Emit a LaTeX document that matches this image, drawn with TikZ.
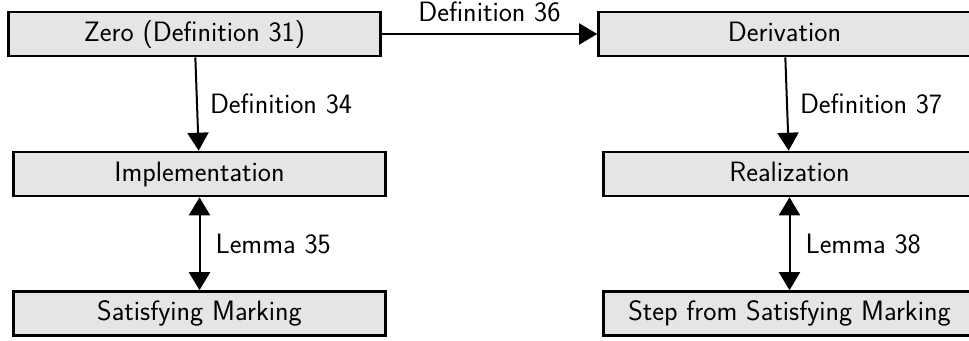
\documentclass[tikz,border=0pt]{standalone}
\usetikzlibrary{arrows.meta}
\begin{document}
\begin{tikzpicture}[x=1pt,y=-1pt,
  box/.style={draw=black, line width=2.6pt, fill=black!10, rectangle,
    minimum width=372pt, minimum height=44pt, inner sep=0pt,
    font=\sffamily\fontsize{28}{33}\selectfont,
    text height=20pt, text depth=6pt},
  link/.style={line width=2pt, -{Triangle[length=18pt,width=21pt]}},
  twoway/.style={line width=2pt, {Triangle[length=18pt,width=21pt]}-{Triangle[length=18pt,width=21pt]}},
  lbl/.style={font=\sffamily\fontsize{28}{33}\selectfont, inner sep=0pt}]
  \useasboundingbox (0,0) rectangle (969,340);
  \clip (0,0) rectangle (969,340);

  % left column
  \node[box] (zero) at (194.5,34) {Zero (Definition 31)};
  \node[box] (impl) at (199.5,174) {Implementation};
  \node[box] (sat)  at (199.5,313.5) {Satisfying Marking};

  % right column
  \node[box] (deriv) at (784.5,34) {Derivation};
  \node[box] (real)  at (789.5,174) {Realization};
  \node[box] (step)  at (789.5,313.5) {Step from Satisfying Marking};

  % connectors
  \draw[link] (zero) -- node[lbl, anchor=south, yshift=11pt] {Definition 36} (deriv);
  \draw[link] (zero) -- node[lbl, anchor=west, xshift=12pt] {Definition 34} (impl);
  \draw[link] (deriv) -- node[lbl, anchor=west, xshift=12pt] {Definition 37} (real);
  \draw[twoway] (impl) -- node[lbl, anchor=west, xshift=15pt] {Lemma 35} (sat);
  \draw[twoway] (real) -- node[lbl, anchor=west, xshift=15pt] {Lemma 38} (step);
\end{tikzpicture}
\end{document}
